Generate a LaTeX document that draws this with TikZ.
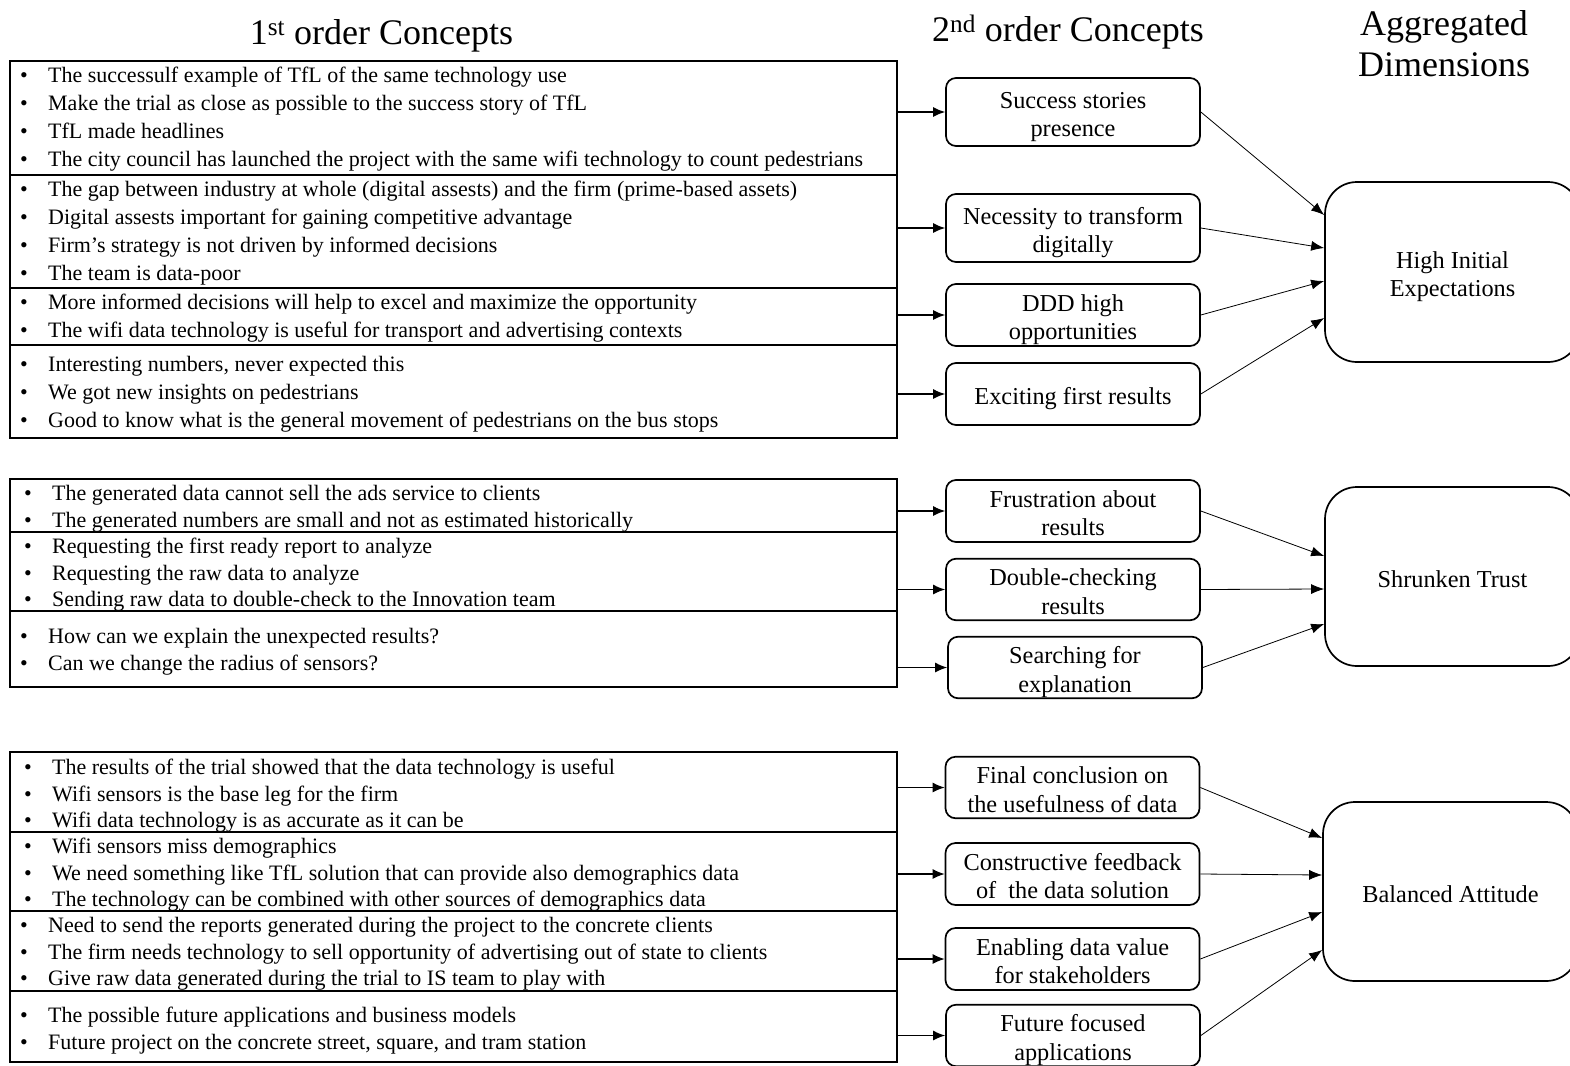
\documentclass[tikz,border=0pt]{standalone}
\usepackage{fontspec}
\setmainfont{Liberation Serif}
\usetikzlibrary{arrows.meta}

% one bulleted line of a first-order group
\newcommand\bul[1]{\strut\makebox[28pt][l]{\textbullet}#1}
% fixed height above the first line and depth below the last line of a box label
\newcommand\up{\rule{0pt}{27pt}}
\newcommand\dn{\rule[-6pt]{0pt}{0pt}}

\tikzset{
  group/.style={draw, line width=1.7pt, minimum width=887pt, inner sep=0pt},
  items/.style={anchor=north west, inner sep=0pt, align=left},
  topitems/.style={items, font=\fontsize{22}{27.9}\selectfont},
  lowitems/.style={items, font=\fontsize{22}{26.4}\selectfont},
  boxtext/.style={align=center, inner sep=0pt, font=\fontsize{24.3}{28.5}\selectfont},
  concept/.style={boxtext, draw, line width=1.7pt, rounded corners=10pt, minimum width=254pt},
  dimension/.style={boxtext, draw, line width=1.7pt, rounded corners=32pt,
    minimum width=255pt, minimum height=180pt},
  heading/.style={inner sep=0pt, font=\fontsize{36}{41}\selectfont},
  feed/.style={-{Latex[length=12pt,width=10pt]}, line width=1.3pt},
  link/.style={-{Latex[length=13pt,width=10pt]}, line width=0.8pt},
}

\begin{document}
\begin{tikzpicture}[x=1pt, y=-1pt]
\useasboundingbox (0,0) rectangle (1570,1065);

% column headings
\node[heading, anchor=base] (h1) at (381.5,45) {1\textsuperscript{st} order Concepts};
\node[heading, anchor=base] (h2) at (1068,41.5) {2\textsuperscript{nd} order Concepts};
\node[heading, align=center] (h3) at (1444,43.5) {Aggregated\\Dimensions};

% ---------------- first-order concepts: frames ----------------
\node[group, minimum height=114pt] (s1) at (453.5,118) {};
\node[group, minimum height=113pt] (s2) at (453.5,231.5) {};
\node[group, minimum height=57pt] (s3) at (453.5,316.5) {};
\node[group, minimum height=93pt] (s4) at (453.5,391.5) {};
\node[group, minimum height=53pt] (s5) at (453.5,505.5) {};
\node[group, minimum height=79pt] (s6) at (453.5,571.5) {};
\node[group, minimum height=76pt] (s7) at (453.5,649) {};
\node[group, minimum height=80pt] (s8) at (453.5,792) {};
\node[group, minimum height=79pt] (s9) at (453.5,871.5) {};
\node[group, minimum height=80pt] (s10) at (453.5,951) {};
\node[group, minimum height=71pt] (s11) at (453.5,1026.5) {};

% ---------------- first-order concepts: quotes ----------------
% the top edge of each list sits one strut height above its first baseline
\node[topitems] (q1) at (20,63) {%
  \bul{The successulf example of TfL of the same technology use}\\
  \bul{Make the trial as close as possible to the success story of TfL}\\
  \bul{TfL made headlines}\\
  \bul{The city council has launched the project with the same wifi technology to count pedestrians}};
\node[topitems] (q2) at (20,177) {%
  \bul{The gap between industry at whole (digital assests) and the firm (prime-based assets)}\\
  \bul{Digital assests important for gaining competitive advantage}\\
  \bul{Firm’s strategy is not driven by informed decisions}\\
  \bul{The team is data-poor}};
\node[topitems] (q3) at (20,290) {%
  \bul{More informed decisions will help to excel and maximize the opportunity}\\
  \bul{The wifi data technology is useful for transport and advertising contexts}};
\node[topitems] (q4) at (20,352) {%
  \bul{Interesting numbers, never expected this}\\
  \bul{We got new insights on pedestrians}\\
  \bul{Good to know what is the general movement of pedestrians on the bus stops}};

\node[lowitems] (q5) at (24,482.3) {%
  \bul{The generated data cannot sell the ads service to clients}\\
  \bul{The generated numbers are small and not as estimated historically}};
\node[lowitems] (q6) at (24,535.3) {%
  \bul{Requesting the first ready report to analyze}\\
  \bul{Requesting the raw data to analyze}\\
  \bul{Sending raw data to double-check to the Innovation team}};
\node[lowitems] (q7) at (20,625.3) {%
  \bul{How can we explain the unexpected results?}\\
  \bul{Can we change the radius of sensors?}};

\node[lowitems] (q8) at (24,756.3) {%
  \bul{The results of the trial showed that the data technology is useful}\\
  \bul{Wifi sensors is the base leg for the firm}\\
  \bul{Wifi data technology is as accurate as it can be}};
\node[lowitems] (q9) at (24,835.3) {%
  \bul{Wifi sensors miss demographics}\\
  \bul{We need something like TfL solution that can provide also demographics data}\\
  \bul{The technology can be combined with other sources of demographics data}};
\node[lowitems] (q10) at (20,914.3) {%
  \bul{Need to send the reports generated during the project to the concrete clients}\\
  \bul{The firm needs technology to sell opportunity of advertising out of state to clients}\\
  \bul{Give raw data generated during the trial to IS team to play with}};
\node[lowitems] (q11) at (20,1004.3) {%
  \bul{The possible future applications and business models}\\
  \bul{Future project on the concrete street, square, and tram station}};

% ---------------- second-order concepts ----------------
\node[concept, minimum height=68pt] (c1) at (1073,112) {\up Success stories\\presence\dn};
\node[concept, minimum height=68pt] (c2) at (1073,228) {\up Necessity to transform\\digitally\dn};
\node[concept, minimum height=62pt] (c3) at (1073,315) {\up DDD high\\opportunities\dn};
\node[concept, minimum height=62pt] (c4) at (1073,394) {\up Exciting first results\dn};
\node[concept, minimum height=62pt] (c5) at (1073,511) {\up Frustration about\\results\dn};
\node[concept, minimum height=61pt] (c6) at (1073,589.5) {\up Double-checking\\results\dn};
\node[concept, minimum height=61pt] (c7) at (1075,667.5) {\up Searching for\\explanation\dn};
\node[concept, minimum height=61pt] (c8) at (1072.5,787.5) {\up Final conclusion on\\the usefulness of data\dn};
\node[concept, minimum height=62pt] (c9) at (1072.5,874) {\up Constructive feedback\\of\ \ the data solution\dn};
\node[concept, minimum height=62pt] (c10) at (1072.5,959) {\up Enabling data value\\for stakeholders\dn};
\node[concept, minimum height=61pt] (c11) at (1073,1035.5) {\up Future focused\\applications\dn};

% ---------------- aggregated dimensions ----------------
\node[dimension] (d1) at (1452.5,272) {\up High Initial\\Expectations\dn};
\node[dimension, minimum height=179pt] (d2) at (1452.5,576.5) {\up Shrunken Trust\dn};
\node[dimension, minimum height=179pt] (d3) at (1450.5,891.5) {\up Balanced Attitude\dn};

% first order -> second order
\foreach \s/\c in {s1/c1, s2/c2, s3/c3, s4/c4, s5/c5, s6/c6, s7/c7, s8/c8, s9/c9, s10/c10, s11/c11}
  \draw[feed] (\s.east |- \c.west) -- (\c.west);

% second order -> aggregated dimensions
\draw[link] (c1.east) -- ([yshift=57pt]d1.west);
\draw[link] (c2.east) -- ([yshift=24pt]d1.west);
\draw[link] (c3.east) -- ([yshift=-9pt]d1.west);
\draw[link] (c4.east) -- ([yshift=-46pt]d1.west);
\draw[link] (c5.east) -- ([yshift=20.5pt]d2.west);
\draw[link] (c6.east) -- ([yshift=-12.5pt]d2.west);
\draw[link] (c7.east) -- ([yshift=-47.5pt]d2.west);
\draw[link] (c8.east) -- ([yshift=53.5pt]d3.west);
\draw[link] (c9.east) -- ([yshift=16.5pt]d3.west);
\draw[link] (c10.east) -- ([yshift=-20.5pt]d3.west);
\draw[link] (c11.east) -- ([yshift=-58.5pt]d3.west);
\end{tikzpicture}
\end{document}
